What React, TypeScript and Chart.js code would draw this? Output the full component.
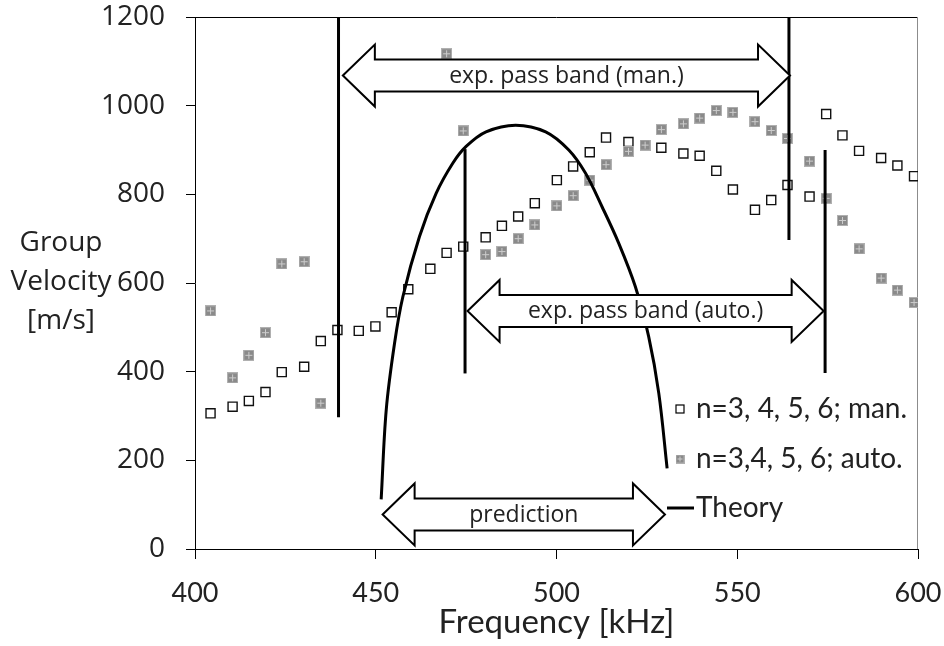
import React, { useEffect, useRef } from "react";
import { Chart, registerables } from "chart.js";

Chart.register(...registerables);

// ---------- data ----------
const xTickValues = [400, 450, 500, 550, 600];
const yTickValues = [0, 200, 400, 600, 800, 1000, 1200];

const manualFreq = [404.3, 410.4, 414.9, 419.5, 424.0, 430.2, 434.8, 439.4, 445.3, 449.9, 454.4, 459.0, 465.1, 469.6, 474.2, 480.4, 484.9, 489.4, 494.0, 500.1, 504.6, 509.2, 513.7, 519.9, 529.0, 535.1, 539.6, 544.2, 548.8, 554.9, 559.4, 563.9, 570.0, 574.6, 579.1, 583.7, 589.8, 594.3, 598.9];
const manualVel = [306, 321, 334, 354, 399, 411, 469, 494, 492, 502, 534, 586, 632, 668, 682, 703, 729, 750, 780, 832, 863, 895, 928, 918, 905, 892, 887, 853, 811, 765, 787, 821, 795, 981, 933, 898, 882, 865, 841];

const autoFreq = [404.3, 410.4, 414.9, 419.5, 424.0, 430.2, 434.8, 469.6, 474.2, 480.4, 484.9, 489.4, 494.0, 500.1, 504.6, 509.2, 513.7, 519.9, 524.5, 529.0, 535.1, 539.6, 544.2, 548.8, 554.9, 559.4, 563.9, 570.0, 574.6, 579.1, 583.7, 589.8, 594.3, 598.9];
const autoVel = [537, 386, 437, 488, 643, 648, 329, 1117, 943, 664, 671, 700, 731, 774, 797, 832, 867, 897, 911, 946, 959, 972, 989, 985, 964, 944, 926, 875, 791, 741, 677, 611, 584, 556];

const theoryFreq = [451.5, 452.9, 455.2, 457.5, 462.1, 466.7, 471.3, 475.0, 480.5, 488.7, 497.0, 503.4, 508.0, 512.6, 517.2, 521.8, 525.5, 528.3, 530.6];
const theoryVel = [112, 314, 464, 569, 705, 802, 870, 908, 941, 956, 941, 900, 848, 772, 690, 592, 479, 351, 182];

const bandLineFreq = [439.7, 474.7, 564.3, 574.3];
const bandLineLow = [297, 396, 697, 397];
const bandLineHigh = [1200, 902, 1200, 900];

const arrowFrom = [440.9, 475.4, 451.9];
const arrowTo = [564.6, 573.9, 530.0];
const arrowAt = [1068, 537, 78];
const arrowText = ["exp. pass band (man.)", "exp. pass band (auto.)", "prediction"];

const legendText = ["n=3, 4, 5, 6; man.", "n=3,4, 5, 6; auto.", "Theory"];
const yTitleLines = ["Group", "Velocity", "[m/s]"];
const xTitle = "Frequency [kHz]";

// ---------- markers ----------
function makeAutoMarker(size: number): HTMLCanvasElement {
  const c = document.createElement("canvas");
  c.width = size;
  c.height = size;
  const g = c.getContext("2d")!;
  g.fillStyle = "#b0b0b0";
  g.fillRect(0, 0, size, size);
  g.fillStyle = "#8a8a8a";
  g.fillRect(1, 1, size - 2, size - 2);
  const m = Math.floor(size / 2);
  g.fillStyle = "#cdcdcd";
  g.fillRect(m, 2, 1, size - 4);
  g.fillRect(2, m, size - 4, 1);
  return c;
}

const TEXT = "#222222";

let autoMarkerSmall: HTMLCanvasElement;

const overlayPlugin = {
  id: "overlay",
  beforeDatasetsDraw(chart: any) {
    const { ctx, chartArea: a } = chart;
    ctx.save();
    ctx.lineWidth = 1;
    ctx.strokeStyle = "#000";
    ctx.beginPath();
    ctx.moveTo(a.left, Math.round(a.top) + 0.5);
    ctx.lineTo(a.right, Math.round(a.top) + 0.5);
    ctx.stroke();
    ctx.strokeStyle = "#8c8c8c";
    ctx.beginPath();
    ctx.moveTo(Math.round(a.right) - 0.5, a.top);
    ctx.lineTo(Math.round(a.right) - 0.5, a.bottom);
    ctx.stroke();
    ctx.restore();
  },
  afterDatasetsDraw(chart: any) {
    const { ctx } = chart;
    const xs = chart.scales.x;
    const ys = chart.scales.y;
    const H = 32, B = 16, W = 31;
    ctx.save();
    for (let i = 0; i < arrowFrom.length; i++) {
      const x1 = xs.getPixelForValue(arrowFrom[i]);
      const x2 = xs.getPixelForValue(arrowTo[i]);
      const yc = ys.getPixelForValue(arrowAt[i]);
      ctx.beginPath();
      ctx.moveTo(x1, yc);
      ctx.lineTo(x1 + H, yc - W);
      ctx.lineTo(x1 + H, yc - B);
      ctx.lineTo(x2 - H, yc - B);
      ctx.lineTo(x2 - H, yc - W);
      ctx.lineTo(x2, yc);
      ctx.lineTo(x2 - H, yc + W);
      ctx.lineTo(x2 - H, yc + B);
      ctx.lineTo(x1 + H, yc + B);
      ctx.lineTo(x1 + H, yc + W);
      ctx.closePath();
      ctx.fillStyle = "#ffffff";
      ctx.fill();
      ctx.lineWidth = 2;
      ctx.lineJoin = "miter";
      ctx.strokeStyle = "#000";
      ctx.stroke();
      ctx.fillStyle = TEXT;
      ctx.font = '23px "Open Sans"';
      ctx.textAlign = "center";
      ctx.textBaseline = "middle";
      ctx.fillText(arrowText[i], (x1 + x2) / 2, yc + 1);
    }
    ctx.restore();
  },
  afterDraw(chart: any) {
    const { ctx, chartArea: a } = chart;
    ctx.save();
    // y title
    ctx.fillStyle = TEXT;
    ctx.font = '28px "Open Sans"';
    ctx.textAlign = "center";
    ctx.textBaseline = "alphabetic";
    const yBase = [251, 290, 329];
    yTitleLines.forEach((t, i) => ctx.fillText(t, 61, yBase[i]));
    // x title
    ctx.font = "33px Lato";
    ctx.fillText(xTitle, (a.left + a.right) / 2, 633);
    // legend
    const lx = 680;
    const ly = [409, 459, 508];
    ctx.lineWidth = 1.2;
    ctx.strokeStyle = "#000";
    ctx.fillStyle = "#fff";
    ctx.fillRect(lx - 4, ly[0] - 4, 8, 8);
    ctx.strokeRect(lx - 4, ly[0] - 4, 8, 8);
    ctx.drawImage(autoMarkerSmall, lx - 4.5, ly[1] - 4.5, 9, 9);
    ctx.lineWidth = 3;
    ctx.beginPath();
    ctx.moveTo(667, ly[2]);
    ctx.lineTo(694, ly[2]);
    ctx.stroke();
    ctx.fillStyle = TEXT;
    ctx.font = "28px Lato";
    ctx.textAlign = "left";
    ctx.textBaseline = "middle";
    legendText.forEach((t, i) => ctx.fillText(t, 696, ly[i]));
    ctx.restore();
  },
};

export default function App() {
  const ref = useRef<HTMLCanvasElement>(null);
  useEffect(() => {
    if (!ref.current) return;
    const autoMarker = makeAutoMarker(11);
    autoMarkerSmall = makeAutoMarker(9);

    const bandDatasets = bandLineFreq.map((f, i) => ({
      label: "band" + i,
      data: [
        { x: f, y: bandLineLow[i] },
        { x: f, y: bandLineHigh[i] },
      ],
      showLine: true,
      borderColor: "#000",
      borderWidth: 3,
      pointRadius: 0,
      order: 2,
    }));

    const chart = new Chart(ref.current, {
      type: "scatter",
      data: {
        datasets: [
          {
            label: "man",
            data: manualFreq.map((f, i) => ({ x: f, y: manualVel[i] })),
            pointStyle: "rect",
            pointRadius: 6.4,
            borderWidth: 1.4,
            borderColor: "#111",
            backgroundColor: "rgba(0,0,0,0)",
            order: 4,
          },
          {
            label: "auto",
            data: autoFreq.map((f, i) => ({ x: f, y: autoVel[i] })),
            pointStyle: autoMarker as any,
            pointRadius: 5,
            order: 3,
          },
          ...bandDatasets,
          {
            label: "theory",
            data: theoryFreq.map((f, i) => ({ x: f, y: theoryVel[i] })),
            showLine: true,
            tension: 0.35,
            borderColor: "#000",
            borderWidth: 3,
            pointRadius: 0,
            order: 1,
          },
        ] as any,
      },
      options: {
        responsive: false,
        animation: false,
        devicePixelRatio: 1,
        layout: { padding: { top: 17, right: 26, bottom: 0, left: 0 } },
        plugins: {
          legend: { display: false },
          tooltip: { enabled: false },
        },
        scales: {
          x: {
            type: "linear",
            min: 400,
            max: 600,
            afterFit: (s: any) => {
              s.height = 97;
              s.paddingLeft = 0;
              s.paddingRight = 0;
            },
            afterBuildTicks: (s: any) => {
              s.ticks = xTickValues.map((v) => ({ value: v }));
            },
            ticks: {
              font: { family: "Lato", size: 27 },
              color: TEXT,
              padding: 18,
              maxRotation: 0,
              autoSkip: false,
              callback: (v: any) => String(v),
            },
            grid: {
              drawOnChartArea: false,
              drawTicks: true,
              tickLength: 10,
              color: "#000",
            },
            border: { display: true, color: "#000", width: 1 },
          },
          y: {
            type: "linear",
            min: 0,
            max: 1200,
            afterFit: (s: any) => {
              s.width = 195;
              s.paddingTop = 0;
              s.paddingBottom = 0;
            },
            afterBuildTicks: (s: any) => {
              s.ticks = yTickValues.map((v) => ({ value: v }));
            },
            ticks: {
              font: { family: "Open Sans", size: 28 },
              color: TEXT,
              padding: 21,
              autoSkip: false,
              callback: (v: any) => String(v),
            },
            grid: {
              drawOnChartArea: false,
              drawTicks: true,
              tickLength: 9,
              color: "#000",
            },
            border: { display: true, color: "#000", width: 1 },
          },
        },
      } as any,
      plugins: [overlayPlugin],
    });
    return () => chart.destroy();
  }, []);

  return (
    <div style={{ position: "absolute", left: 0, top: 0, width: 944, height: 646, background: "#fff" }}>
      <canvas ref={ref} width={944} height={646} style={{ display: "block" }} />
    </div>
  );
}
